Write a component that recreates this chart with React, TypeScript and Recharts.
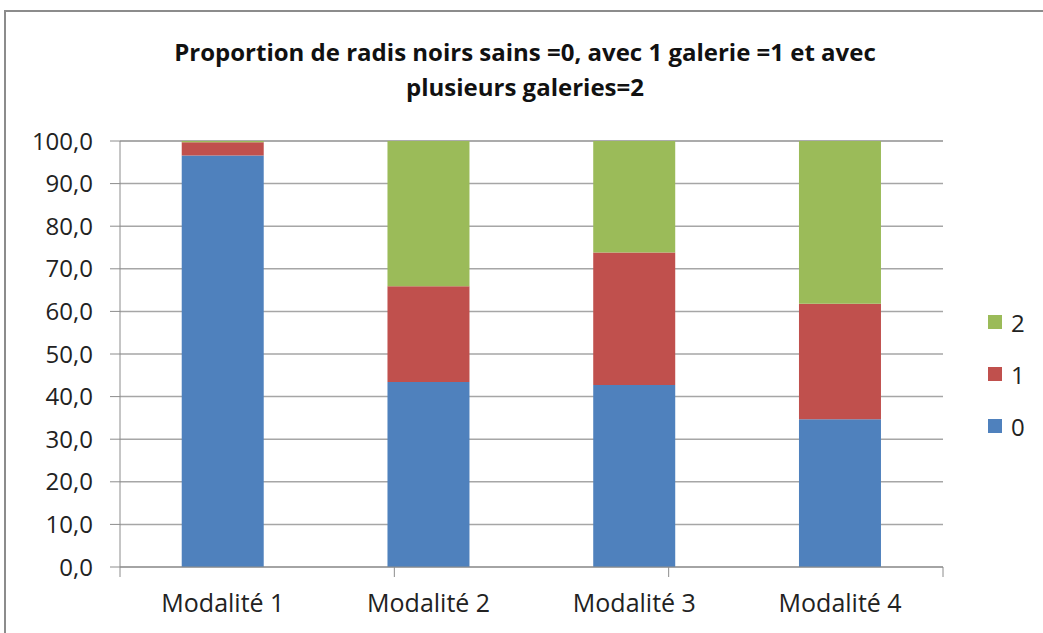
import { BarChart, Bar, XAxis, YAxis, CartesianGrid } from "recharts"

const categories = ["Modalité 1", "Modalité 2", "Modalité 3", "Modalité 4"]
const sains = [96.6, 43.4, 42.7, 34.7]
const uneGalerie = [3.1, 22.5, 31.1, 27.1]
const plusieurs = [0.3, 34.1, 26.2, 38.2]
const yTicks = [0, 10, 20, 30, 40, 50, 60, 70, 80, 90, 100]
const boundaryTicks = [0, 1, 2, 3, 4]

const series = [
  { key: "s0", name: "0", color: "#4f81bd" },
  { key: "s1", name: "1", color: "#c0504d" },
  { key: "s2", name: "2", color: "#9bbb59" },
]

const data = categories.map((c, i) => ({
  name: c,
  s0: sains[i],
  s1: uneGalerie[i],
  s2: plusieurs[i],
}))

const font = "'Open Sans', sans-serif"

// tick marks only, no label
const NoLabel = () => <g />

export default function App() {
  return (
    <div style={{ position: "absolute", left: 0, top: 0, width: 1043, height: 633, background: "#fff", overflow: "hidden" }}>
      <div
        style={{
          position: "absolute",
          left: 4,
          top: 10,
          width: 1060,
          height: 640,
          border: "2px solid #8c8c8c",
          boxSizing: "border-box",
        }}
      />
      <div
        style={{
          position: "absolute",
          left: 75,
          width: 900,
          top: 34,
          textAlign: "center",
          fontFamily: font,
          fontWeight: "bold",
          fontSize: 24,
          lineHeight: "35px",
          color: "#111",
        }}
      >
        Proportion de radis noirs sains =0, avec 1 galerie =1 et avec
        <br />
        plusieurs galeries=2
      </div>
      <BarChart
        width={1043}
        height={633}
        data={data}
        margin={{ top: 141, right: 100, bottom: 25, left: 20 }}
        barCategoryGap="30%"
      >
        <CartesianGrid xAxisId="cat" vertical={false} stroke="#a6a6a6" strokeWidth={1.5} />
        <XAxis
          xAxisId={0}
          type="number"
          domain={[0, 4]}
          ticks={boundaryTicks}
          tick={NoLabel}
          height={1}
          axisLine={{ stroke: "#8c8c8c" }}
          tickLine={{ stroke: "#8c8c8c" }}
          tickSize={10}
        />
        <XAxis
          xAxisId="cat"
          dataKey="name"
          axisLine={false}
          tickLine={false}
          tick={{ fontFamily: font, fontSize: 25, fill: "#222" }}
          tickMargin={20}
          height={40}
        />
        <YAxis
          domain={[0, 100]}
          ticks={yTicks}
          interval={0}
          width={100}
          axisLine={{ stroke: "#8c8c8c" }}
          tickLine={{ stroke: "#8c8c8c" }}
          tickSize={10}
          tickMargin={17}
          tick={{ fontFamily: font, fontSize: 24, fill: "#222" }}
          tickFormatter={(v: number) => v.toFixed(1).replace(".", ",")}
        />
        {series.map((s) => (
          <Bar
            key={s.key}
            xAxisId="cat"
            dataKey={s.key}
            name={s.name}
            stackId="a"
            fill={s.color}
            isAnimationActive={false}
          />
        ))}
      </BarChart>
      <div style={{ position: "absolute", left: 988, top: 296, fontFamily: font, fontSize: 24, color: "#222" }}>
        {[...series].reverse().map((s) => (
          <div key={s.key} style={{ display: "flex", alignItems: "center", height: 52 }}>
            <span style={{ width: 14, height: 14, background: s.color, marginRight: 9, display: "inline-block" }} />
            <span>{s.name}</span>
          </div>
        ))}
      </div>
    </div>
  )
}
